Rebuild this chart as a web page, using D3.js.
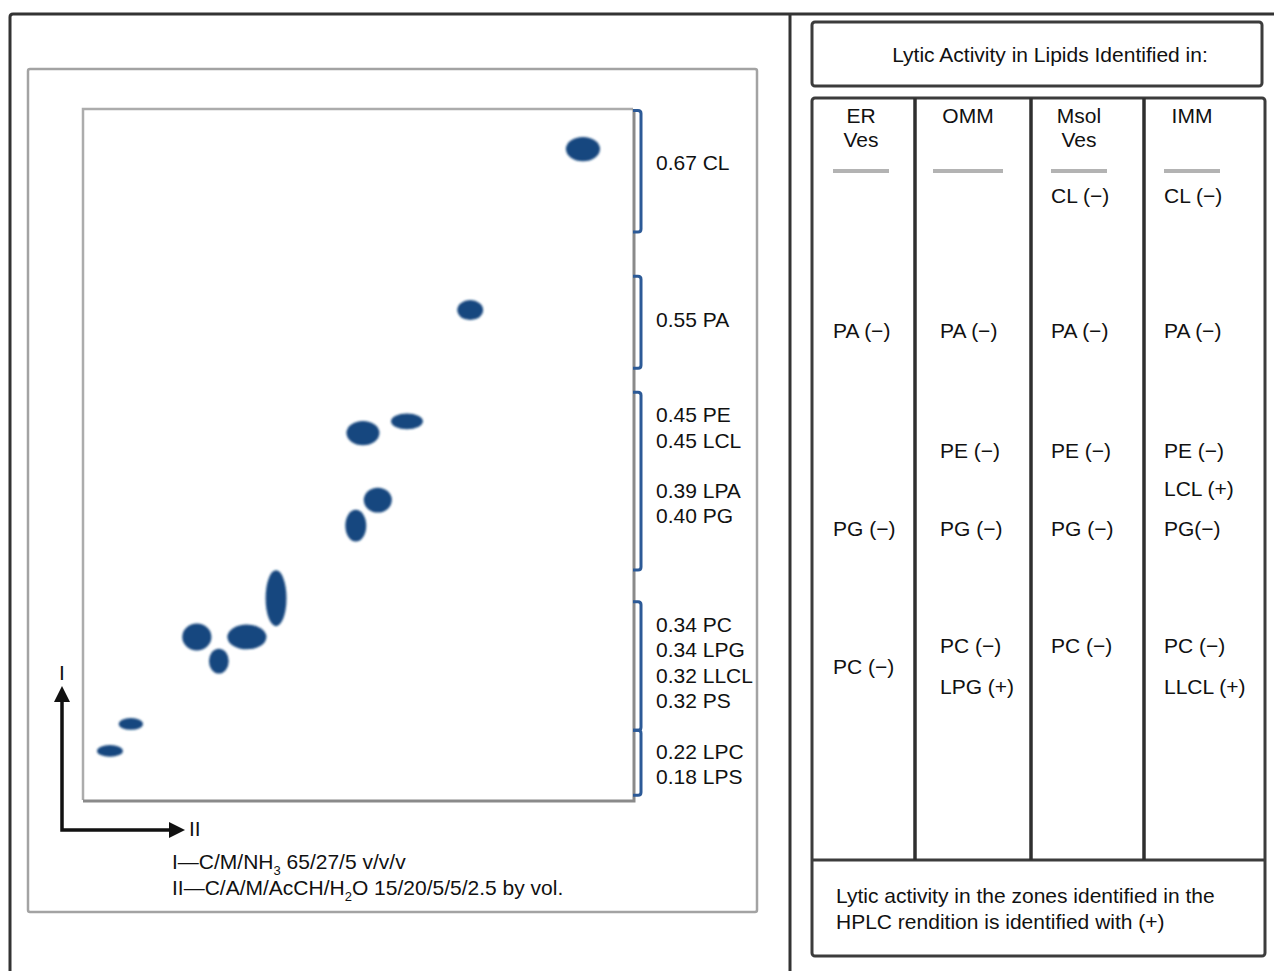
<!DOCTYPE html>
<html>
<head>
<meta charset="utf-8">
<script src="https://cdn.jsdelivr.net/npm/d3@7"></script>
<style>
  body { margin: 0; background: #fff; }
  text { font-family: "Liberation Sans", Arial, sans-serif; font-size: 21px; fill: #111; }
</style>
</head>
<body>
<svg width="1274" height="971"></svg>
<script>
// ---- data ----
// spots on the 2D TLC plate, in plate fractions (II = horizontal run, I = vertical run)
var spotII = [0.909, 0.704, 0.509, 0.589, 0.536, 0.496, 0.351, 0.207, 0.298, 0.247, 0.087, 0.049];
var spotI = [0.942, 0.709, 0.531, 0.548, 0.434, 0.397, 0.292, 0.236, 0.236, 0.201, 0.110, 0.071];
var spotW = [0.062, 0.047, 0.060, 0.058, 0.051, 0.038, 0.038, 0.053, 0.071, 0.036, 0.044, 0.047];
var spotH = [0.035, 0.029, 0.035, 0.023, 0.036, 0.046, 0.081, 0.039, 0.036, 0.036, 0.017, 0.017];

// zones bracketed at the right edge of the plate (plate fraction, dimension I)
var zoneTop = [0.998, 0.758, 0.590, 0.287, 0.101];
var zoneBottom = [0.822, 0.625, 0.333, 0.101, 0.007];
var zoneLabels = [
  ["0.67 CL"],
  ["0.55 PA"],
  ["0.45 PE", "0.45 LCL", "0.39 LPA", "0.40 PG"],
  ["0.34 PC", "0.34 LPG", "0.32 LLCL", "0.32 PS"],
  ["0.22 LPC", "0.18 LPS"]
];

// table on the right
var columns = ["ER Ves", "OMM", "Msol Ves", "IMM"];
var colHeader = [["ER", "Ves"], ["OMM"], ["Msol", "Ves"], ["IMM"]];
var erVes = ["PA (−)", "PG (−)", "PC (−)"];
var erVesRows = ["PA", "PG", "PC/LPG"];
var omm = ["PA (−)", "PE (−)", "PG (−)", "PC (−)", "LPG (+)"];
var ommRows = ["PA", "PE", "PG", "PC", "LPG"];
var msolVes = ["CL (−)", "PA (−)", "PE (−)", "PG (−)", "PC (−)"];
var msolVesRows = ["CL", "PA", "PE", "PG", "PC"];
var imm = ["CL (−)", "PA (−)", "PE (−)", "LCL (+)", "PG(−)", "PC (−)", "LLCL (+)"];
var immRows = ["CL", "PA", "PE", "LCL", "PG", "PC", "LLCL"];

var tableTitle = "Lytic Activity in Lipids Identified in:";
var footNote = ["Lytic activity in the zones identified in the", "HPLC rendition is identified with (+)"];

// ---- layout ----
var svg = d3.select("svg");

var x = d3.scaleLinear().domain([0, 1]).range([83, 633]);   // dimension II
var y = d3.scaleLinear().domain([0, 1]).range([800, 109]);  // dimension I

// label line positions next to the brackets
var labelY = [[163], [320], [415, 441, 491, 516], [625, 650, 676, 701], [752, 777]];

var colX = d3.scaleOrdinal().domain(columns).range([861, 968, 1079, 1192]);   // column centres
var rowY = d3.scaleOrdinal()
  .domain(["CL", "PA", "PE", "LCL", "PG", "PC", "PC/LPG", "LPG", "LLCL"])
  .range([196, 331, 451, 489, 529, 646, 667, 687, 687]);

var defs = svg.append("defs");
defs.append("filter").attr("id", "soft")
  .append("feGaussianBlur").attr("stdDeviation", 0.8);

// outer frame lines
svg.append("path")
  .attr("d", "M10,971 V17 Q10,14 13,14 H1274 M790,14 V971")
  .attr("fill", "none").attr("stroke", "#333").attr("stroke-width", 3);

// grey frame around the plate
svg.append("rect")
  .attr("x", 28).attr("y", 69).attr("width", 729).attr("height", 843).attr("rx", 2)
  .attr("fill", "none").attr("stroke", "#a3a3a3").attr("stroke-width", 2.5);

// the plate
svg.append("path")
  .attr("d", "M" + x(0) + "," + y(0) + " V" + y(1) + " H" + x(1))
  .attr("fill", "none").attr("stroke", "#acacac").attr("stroke-width", 2.5);
svg.append("path")
  .attr("d", "M" + x(0) + "," + (y(0) + 1) + " H" + (x(1) + 1) + " V" + y(1))
  .attr("fill", "none").attr("stroke", "#8a8a8a").attr("stroke-width", 3);

// spots
svg.append("g").attr("filter", "url(#soft)")
  .selectAll("ellipse")
  .data(spotII)
  .enter().append("ellipse")
  .attr("cx", function (d) { return x(d); })
  .attr("cy", function (d, i) { return y(spotI[i]); })
  .attr("rx", function (d, i) { return x(spotW[i] / 2) - x(0); })
  .attr("ry", function (d, i) { return y(0) - y(spotH[i] / 2); })
  .attr("fill", "#17477f");

// brackets
var bx = x(1) + 8;
svg.append("g").selectAll("path")
  .data(zoneTop)
  .enter().append("path")
  .attr("d", function (d, i) {
    var t = y(d), b = y(zoneBottom[i]);
    return "M" + x(1) + "," + t + " H" + (bx - 3) + " Q" + bx + "," + t + " " + bx + "," + (t + 3)
      + " V" + (b - 3) + " Q" + bx + "," + b + " " + (bx - 3) + "," + b + " H" + x(1);
  })
  .attr("fill", "none").attr("stroke", "#2c5a97").attr("stroke-width", 3);

// bracket labels
zoneLabels.forEach(function (lines, i) {
  svg.append("g").selectAll("text")
    .data(lines)
    .enter().append("text")
    .attr("x", 656)
    .attr("y", function (d, j) { return labelY[i][j]; })
    .attr("dy", "0.35em")
    .text(function (d) { return d; });
});

// direction arrows
var arrows = svg.append("g");
arrows.append("path")
  .attr("d", "M62,698 V830 H174")
  .attr("fill", "none").attr("stroke", "#111").attr("stroke-width", 3.5);
arrows.append("path").attr("d", "M62,686 L54,702 L70,702 Z").attr("fill", "#111");
arrows.append("path").attr("d", "M185,830 L169,822 L169,838 Z").attr("fill", "#111");
arrows.append("text").attr("x", 62).attr("y", 673).attr("dy", "0.35em")
  .attr("text-anchor", "middle").text("I");
arrows.append("text").attr("x", 189).attr("y", 829).attr("dy", "0.35em").text("II");

// solvent systems
var s1 = svg.append("text").attr("x", 172).attr("y", 862).attr("dy", "0.35em");
s1.append("tspan").text("I—C/M/NH");
s1.append("tspan").attr("font-size", "13px").attr("dy", 6).text("3");
s1.append("tspan").attr("dy", -6).text(" 65/27/5 v/v/v");
var s2 = svg.append("text").attr("x", 172).attr("y", 888).attr("dy", "0.35em");
s2.append("tspan").text("II—C/A/M/AcCH/H");
s2.append("tspan").attr("font-size", "13px").attr("dy", 6).text("2");
s2.append("tspan").attr("dy", -6).text("O 15/20/5/5/2.5 by vol.");

// ---- right panel ----
svg.append("rect")
  .attr("x", 812).attr("y", 22).attr("width", 450).attr("height", 64).attr("rx", 3)
  .attr("fill", "none").attr("stroke", "#3c3c3c").attr("stroke-width", 3);
svg.append("text").attr("x", 1050).attr("y", 55).attr("dy", "0.35em")
  .attr("text-anchor", "middle").text(tableTitle);

svg.append("rect")
  .attr("x", 812).attr("y", 98).attr("width", 453).attr("height", 858).attr("rx", 3)
  .attr("fill", "none").attr("stroke", "#3c3c3c").attr("stroke-width", 3);
svg.append("line")
  .attr("x1", 812).attr("x2", 1265).attr("y1", 860).attr("y2", 860)
  .attr("stroke", "#3c3c3c").attr("stroke-width", 3);

var colEdges = [915, 1031, 1144];
svg.append("g").selectAll("line")
  .data(colEdges)
  .enter().append("line")
  .attr("x1", function (d) { return d; }).attr("x2", function (d) { return d; })
  .attr("y1", 98).attr("y2", 860)
  .attr("stroke", "#2f2f2f").attr("stroke-width", 3.5);

// column headers and grey rules
columns.forEach(function (c, i) {
  svg.append("g").selectAll("text")
    .data(colHeader[i])
    .enter().append("text")
    .attr("x", colX(c))
    .attr("y", function (d, j) { return 116 + j * 24; })
    .attr("dy", "0.35em")
    .attr("text-anchor", "middle")
    .text(function (d) { return d; });
  var hw = c === "OMM" ? 35 : 28;
  svg.append("line")
    .attr("x1", colX(c) - hw).attr("x2", colX(c) + hw)
    .attr("y1", 171).attr("y2", 171)
    .attr("stroke", "#b3b3b3").attr("stroke-width", 4);
});

// column entries
var entries = [erVes, omm, msolVes, imm];
var entryRows = [erVesRows, ommRows, msolVesRows, immRows];
columns.forEach(function (c, i) {
  svg.append("g").selectAll("text")
    .data(entries[i])
    .enter().append("text")
    .attr("x", colX(c) - 28)
    .attr("y", function (d, j) { return rowY(entryRows[i][j]); })
    .attr("dy", "0.35em")
    .text(function (d) { return d; });
});

svg.append("g").selectAll("text")
  .data(footNote)
  .enter().append("text")
  .attr("x", 836)
  .attr("y", function (d, i) { return 896 + i * 26; })
  .attr("dy", "0.35em")
  .text(function (d) { return d; });
</script>
</body>
</html>
